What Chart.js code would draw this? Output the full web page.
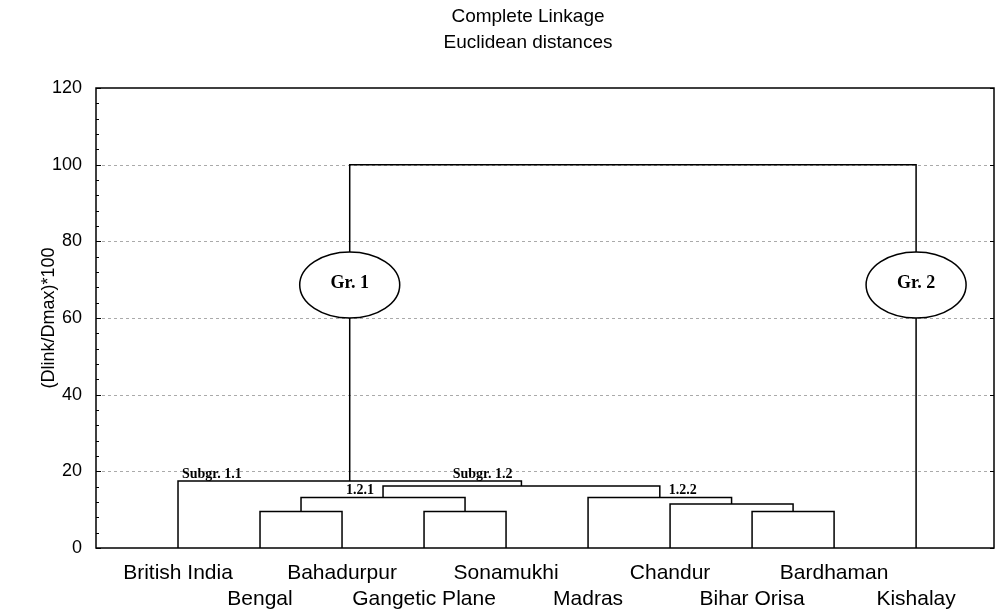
<!DOCTYPE html>
<html>
<head>
<meta charset="utf-8">
<script src="https://cdn.jsdelivr.net/npm/chart.js@4/dist/chart.umd.min.js"></script>
<style>
  html, body { margin: 0; padding: 0; background: #fff; }
  #wrap { width: 1004px; height: 613px; }
</style>
</head>
<body>
<div id="wrap"><canvas id="dendro"></canvas></div>
<script>
// leaves, in dendrogram order
var leafLabels = ['British India', 'Bengal', 'Bahadurpur', 'Gangetic Plane', 'Sonamukhi',
                  'Madras', 'Chandur', 'Bihar Orisa', 'Bardhaman', 'Kishalay'];

// merges: node 10 + k joins mergeLeft[k] and mergeRight[k] at mergeHeight[k]
var mergeLeft   = [1, 3, 7, 6, 10, 5, 14, 0, 17];
var mergeRight  = [2, 4, 8, 12, 11, 13, 15, 16, 9];
var mergeHeight = [9.5, 9.5, 9.5, 11.5, 13.2, 13.2, 16.2, 17.5, 100];

// group ellipses
var groupNames = ['Gr. 1', 'Gr. 2'];
var groupNodes = [17, 9];
var groupLevel = 68.6;

// sub-group captions: text, node, height
var subNames   = ['Subgr. 1.1', 'Subgr. 1.2', '1.2.1', '1.2.2'];
var subNodes   = [0, 16, 14, 15];
var subHeights = [17.5, 17.5, 13.2, 13.2];
var subAlign   = ['left', 'right', 'right', 'left'];

var yTicks = [0, 20, 40, 60, 80, 100, 120];

// node positions
var nodeX = [], nodeH = [];
leafLabels.forEach(function(l, i) { nodeX.push(i + 1); nodeH.push(0); });
mergeLeft.forEach(function(a, k) {
	var b = mergeRight[k];
	nodeX.push((nodeX[a] + nodeX[b]) / 2);
	nodeH.push(mergeHeight[k]);
});

var datasets = mergeLeft.map(function(a, k) {
	var b = mergeRight[k], h = mergeHeight[k];
	return {
		data: [{x: nodeX[a], y: nodeH[a]}, {x: nodeX[a], y: h}, {x: nodeX[b], y: h}, {x: nodeX[b], y: nodeH[b]}],
		showLine: true,
		borderColor: '#000',
		borderWidth: 1.5,
		pointRadius: 0,
		tension: 0,
		fill: false
	};
});

var framePlugin = {
	id: 'frame',
	beforeDatasetsDraw: function(chart) {
		var ctx = chart.ctx, a = chart.chartArea, ys = chart.scales.y;
		ctx.save();
		ctx.strokeStyle = '#aaa';
		ctx.lineWidth = 1;
		ctx.setLineDash([3, 3]);
		yTicks.forEach(function(v) {
			if (v === 0 || v === 120) return;
			var py = Math.round(ys.getPixelForValue(v)) + 0.5;
			ctx.beginPath(); ctx.moveTo(a.left, py); ctx.lineTo(a.right, py); ctx.stroke();
		});
		ctx.restore();
	},
	afterDatasetsDraw: function(chart) {
		var ctx = chart.ctx, a = chart.chartArea, ys = chart.scales.y, xs = chart.scales.x;
		ctx.save();
		ctx.strokeStyle = '#000';
		ctx.lineWidth = 1.5;
		ctx.strokeRect(a.left, a.top, a.right - a.left, a.bottom - a.top);
		ctx.lineWidth = 1;
		for (var v = 0; v <= 120; v += 4) {
			var py = Math.round(ys.getPixelForValue(v)) + 0.5;
			var major = v % 20 === 0;
			ctx.beginPath();
			ctx.moveTo(a.left, py); ctx.lineTo(a.left + (major ? 5 : 3), py);
			if (major) { ctx.moveTo(a.right, py); ctx.lineTo(a.right - 4, py); }
			ctx.stroke();
		}

		// group ellipses
		ctx.font = 'bold 18px "Liberation Serif", "Times New Roman", serif';
		ctx.textAlign = 'center';
		ctx.textBaseline = 'middle';
		groupNames.forEach(function(name, i) {
			var cx = xs.getPixelForValue(nodeX[groupNodes[i]]);
			var cy = ys.getPixelForValue(groupLevel);
			ctx.beginPath();
			ctx.ellipse(cx, cy, 50, 33, 0, 0, Math.PI * 2);
			ctx.fillStyle = '#fff';
			ctx.fill();
			ctx.lineWidth = 1.5;
			ctx.stroke();
			ctx.fillStyle = '#000';
			ctx.fillText(name, cx, cy - 2);
		});

		// sub-group captions
		ctx.font = 'bold 14px "Liberation Serif", "Times New Roman", serif';
		ctx.textBaseline = 'alphabetic';
		subNames.forEach(function(name, i) {
			var px = xs.getPixelForValue(nodeX[subNodes[i]]);
			var py = ys.getPixelForValue(subHeights[i]);
			ctx.textAlign = subAlign[i];
			ctx.fillText(name, px + (subAlign[i] === 'left' ? (i === 0 ? 4 : 9) : -9), py - 3);
		});

		// title
		ctx.font = '19px "Liberation Sans", Arial, sans-serif';
		ctx.textAlign = 'center';
		ctx.fillText('Complete Linkage', 528, 22);
		ctx.fillText('Euclidean distances', 528, 48);
		ctx.restore();
	}
};

var ctx = document.getElementById('dendro').getContext('2d');
var chart = new Chart(ctx, {
	type: 'scatter',
	data: { datasets: datasets },
	options: {
		responsive: true,
		maintainAspectRatio: false,
		animation: false,
		layout: { padding: { top: 88, right: 10, left: 0, bottom: 0 } },
		plugins: { legend: { display: false }, tooltip: { enabled: false }, title: { display: false } },
		scales: {
			x: {
				type: 'linear', min: 0, max: 10.95,
				grid: { display: false },
				border: { display: false },
				afterFit: function(s) { s.height = 65; },
				afterBuildTicks: function(s) {
					s.ticks = leafLabels.map(function(l, i) { return {value: i + 1}; });
				},
				ticks: {
					autoSkip: false, maxRotation: 0, padding: 4,
					color: '#000',
					font: { family: '"Liberation Sans", Arial, sans-serif', size: 21, lineHeight: 1.25 },
					callback: function(v) {
						var i = Math.round(v) - 1;
						if (i < 0 || i >= leafLabels.length) return '';
						return i % 2 === 0 ? [leafLabels[i], ''] : ['', leafLabels[i]];
					}
				}
			},
			y: {
				min: 0, max: 120,
				grid: { display: false },
				border: { display: false },
				afterFit: function(s) { s.width = 96; },
				afterBuildTicks: function(s) {
					s.ticks = yTicks.map(function(v) { return {value: v}; });
				},
				ticks: {
					padding: 6, color: '#000',
					font: { family: '"Liberation Sans", Arial, sans-serif', size: 18 }
				},
				title: {
					display: true, text: '(Dlink/Dmax)*100', color: '#000',
					font: { family: '"Liberation Sans", Arial, sans-serif', size: 18 },
					padding: { top: 38, bottom: 0 }
				}
			}
		}
	},
	plugins: [framePlugin]
});
</script>
</body>
</html>
